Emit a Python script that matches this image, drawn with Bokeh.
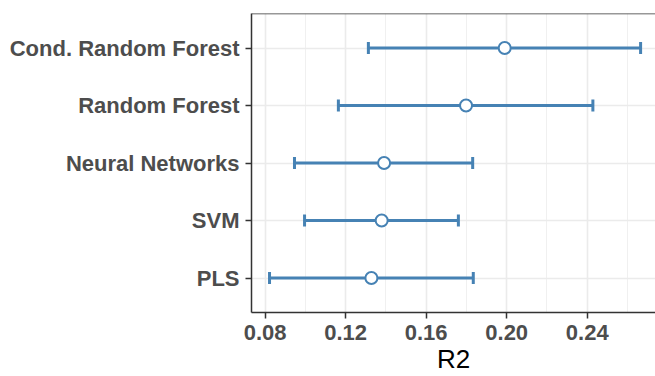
from bokeh.plotting import figure
from bokeh.models import (ColumnDataSource, Range1d, FixedTicker, Whisker, TeeHead,
                          PrintfTickFormatter, Span)
from bokeh.embed import file_html
from bokeh.resources import INLINE

# data (bottom to top)
models = ["PLS", "SVM", "Neural Networks", "Random Forest", "Cond. Random Forest"]
r2_mean = [0.1328, 0.1379, 0.1391, 0.1798, 0.1990]
r2_lower = [0.0822, 0.0996, 0.0946, 0.1164, 0.1313]
r2_upper = [0.1834, 0.1760, 0.1831, 0.2428, 0.2665]
x_ticks = [0.08, 0.12, 0.16, 0.20, 0.24]
x_minor = [0.10, 0.14, 0.18, 0.22, 0.26]

ypos = [i + 1 for i in range(len(models))]
src = ColumnDataSource(dict(y=ypos, m=r2_mean, lo=r2_lower, hi=r2_upper))

FONT = "Liberation Sans"
BLUE = "#4682B4"

p = figure(width=655, height=376, output_backend="svg", toolbar_location=None,
           x_range=Range1d(0.07325, 0.2739), y_range=Range1d(0.4, 5.6),
           min_border_left=251, min_border_top=13, min_border_bottom=61,
           min_border_right=0)
p.outline_line_color = None
p.background_fill_color = "white"
p.border_fill_color = "white"

# grids
p.xaxis.ticker = FixedTicker(ticks=x_ticks, minor_ticks=x_minor)
p.yaxis.ticker = FixedTicker(ticks=ypos)
p.yaxis.major_label_overrides = {y: m for y, m in zip(ypos, models)}
p.xaxis.formatter = PrintfTickFormatter(format="%.2f")
for g in (p.xgrid, p.ygrid):
    g.grid_line_color = "#EBEBEB"
    g.grid_line_width = 1.6
p.xgrid.minor_grid_line_color = "#EEEEEE"
p.xgrid.minor_grid_line_width = 0.9

for ax in (p.xaxis, p.yaxis):
    ax.axis_line_color = "#333333"
    ax.axis_line_width = 1.5
    ax.major_tick_line_color = "#333333"
    ax.major_tick_line_width = 1.5
    ax.major_tick_out = 6
    ax.major_tick_in = 0
    ax.minor_tick_line_color = None
    ax.major_label_text_font = FONT
    ax.major_label_text_font_style = "bold"
    ax.major_label_text_font_size = "22px"
    ax.major_label_text_color = "#4D4D4D"
p.yaxis.major_label_standoff = 6
p.xaxis.major_label_standoff = 6

p.xaxis.axis_label = "R2"
p.xaxis.axis_label_text_font = FONT
p.xaxis.axis_label_text_font_style = "normal"
p.xaxis.axis_label_text_font_size = "26px"
p.xaxis.axis_label_text_color = "black"
p.xaxis.axis_label_standoff = 1

p.add_layout(Span(location=5.6, dimension="width", line_color="#333333", line_width=1.5))

w = Whisker(source=src, base="y", lower="lo", upper="hi", dimension="width",
            line_color=BLUE, line_width=3,
            lower_head=TeeHead(size=12, line_color=BLUE, line_width=3),
            upper_head=TeeHead(size=12, line_color=BLUE, line_width=3))
p.add_layout(w)
p.scatter(x="m", y="y", source=src, size=12, marker="circle",
          fill_color="white", line_color=BLUE, line_width=2)

open("out.html", "w").write(file_html(p, INLINE))
